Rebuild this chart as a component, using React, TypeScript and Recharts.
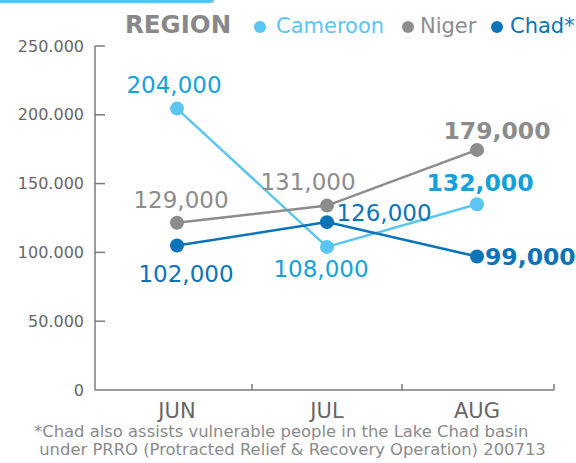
import React from 'react';
import { LineChart, Line, XAxis, YAxis, LabelList } from 'recharts';

const months = ['JUN', 'JUL', 'AUG'];
const seriesNames = ['Cameroon', 'Niger', 'Chad*'];
const cameroonValues = [204500, 104000, 135000];
const nigerValues = [121500, 134000, 174500];
const chadValues = [105000, 122000, 97000];
const cameroonLabels = ['204,000', '108,000', '132,000'];
const nigerLabels = ['129,000', '131,000', '179,000'];
const chadLabels = ['102,000', '126,000', '99,000'];
const yTicks = [0, 50000, 100000, 150000, 200000, 250000];
const legendTitle = 'REGION';
const footnoteLines = [
  '*Chad also assists vulnerable people in the Lake Chad basin',
  'under PRRO (Protracted Relief & Recovery Operation) 200713',
];

const data = months.map((m, i) => ({
  month: m,
  cameroon: cameroonValues[i],
  niger: nigerValues[i],
  chad: chadValues[i],
}));

const FONT = '"DejaVu Sans", Verdana, sans-serif';
const C_CAM_LINE = '#5bc5f2';
const C_CAM_TEXT = '#13a1dc';
const C_NIG = '#8c8c8c';
const C_CHAD = '#0a73b9';
const C_AXIS = '#7a7a7a';
const C_TICK = '#666666';

type Off = { dx: number; dy: number; bold?: boolean; anchor?: string };

const camOff: Off[] = [
  { dx: -3, dy: -24 },
  { dx: -6, dy: 22 },
  { dx: 3, dy: -21, bold: true },
];
const nigOff: Off[] = [
  { dx: 4, dy: -23 },
  { dx: -19, dy: -24 },
  { dx: 20, dy: -19, bold: true },
];
const chadOff: Off[] = [
  { dx: 9, dy: 28 },
  { dx: 57, dy: -9 },
  { dx: 8, dy: 0, bold: true, anchor: 'start' },
];

const makeLabel = (texts: string[], values: number[], color: string, offsets: Off[]) => (props: any) => {
  const x = props.x ?? props.viewBox?.x;
  const y = props.y ?? props.viewBox?.y;
  let index = props.index;
  if (index === undefined || index === null) index = values.indexOf(props.value);
  const o = offsets[index];
  if (!o || x === undefined) return null;
  return (
    <text
      x={x + o.dx}
      y={y + o.dy}
      fill={color}
      fontSize={o.bold ? 23.5 : 23}
      fontWeight={o.bold ? 'bold' : 'normal'}
      textAnchor={o.anchor || 'middle'}
      dominantBaseline="central"
      fontFamily={FONT}
    >
      {texts[index]}
    </text>
  );
};

const fmtY = (v: number) => String(v).replace(/\B(?=(\d{3})+(?!\d))/g, '.');

const YTick = (props: any) => {
  const { x, y, payload } = props;
  return (
    <g>
      <text x={x} y={y} textAnchor="end" dominantBaseline="central" fill={C_TICK} fontSize={16} fontFamily={FONT}>
        {fmtY(payload.value)}
      </text>
      {payload.value !== 0 && <line x1={x + 11} x2={x + 21} y1={y} y2={y} stroke={C_AXIS} strokeWidth={1.5} />}
    </g>
  );
};

const XTick = (props: any) => {
  const { x, y, payload, index } = props;
  const axisY = y - 12;
  const bx = index === months.length - 1 ? x + 77 : x + 75;
  return (
    <g>
      <text x={x} y={y + 16} textAnchor="middle" fill={C_TICK} fontSize={21} fontFamily={FONT}>
        {payload.value}
      </text>
      <line x1={bx} x2={bx} y1={axisY} y2={axisY - 6} stroke={C_AXIS} strokeWidth={1.5} />
    </g>
  );
};

const legendItems = [
  { name: seriesNames[0], color: C_CAM_LINE, dot: 259.5, text: 276 },
  { name: seriesNames[1], color: C_NIG, dot: 408, text: 420 },
  { name: seriesNames[2], color: C_CHAD, dot: 497, text: 510 },
];

export default function App() {
  return (
    <div style={{ position: 'absolute', left: 0, top: 0, width: 576, height: 463, background: '#fff', overflow: 'hidden', fontFamily: FONT }}>
      <div style={{ position: 'absolute', left: 0, top: 0, width: 214, height: 3, background: C_CAM_LINE, borderBottomRightRadius: 3 }} />
      <div style={{ position: 'absolute', left: 125, top: 11, fontSize: 24.5, fontWeight: 'bold', color: '#888888', lineHeight: '28px' }}>
        {legendTitle}
      </div>
      {legendItems.map((it) => (
        <React.Fragment key={it.name}>
          <div style={{ position: 'absolute', left: it.dot - 6, top: 21, width: 12, height: 12, borderRadius: 6, background: it.color }} />
          <div style={{ position: 'absolute', left: it.text, top: 12, fontSize: 21, color: it.color, lineHeight: '28px' }}>{it.name}</div>
        </React.Fragment>
      ))}
      <div style={{ position: 'absolute', left: 0, top: 0 }}>
        <LineChart width={576} height={463} data={data} margin={{ top: 46, right: 22, bottom: 43, left: 0 }}>
          <XAxis
            dataKey="month"
            padding={{ left: 82, right: 77 }}
            axisLine={{ stroke: C_AXIS, strokeWidth: 1.5 }}
            tickLine={false}
            tickSize={0}
            tickMargin={12}
            height={30}
            tick={<XTick />}
            interval={0}
          />
          <YAxis
            domain={[0, 250000]}
            ticks={yTicks}
            width={95}
            axisLine={{ stroke: C_AXIS, strokeWidth: 1.5 }}
            tickLine={false}
            tickSize={0}
            tickMargin={11}
            tick={<YTick />}
            interval={0}
          />
          <Line
            dataKey="cameroon"
            stroke={C_CAM_LINE}
            strokeWidth={2.5}
            dot={{ r: 7, fill: C_CAM_LINE, stroke: 'none' }}
            isAnimationActive={false}
          >
            <LabelList dataKey="cameroon" content={makeLabel(cameroonLabels, cameroonValues, C_CAM_TEXT, camOff)} />
          </Line>
          <Line
            dataKey="niger"
            stroke={C_NIG}
            strokeWidth={2.5}
            dot={{ r: 7, fill: C_NIG, stroke: 'none' }}
            isAnimationActive={false}
          >
            <LabelList dataKey="niger" content={makeLabel(nigerLabels, nigerValues, C_NIG, nigOff)} />
          </Line>
          <Line
            dataKey="chad"
            stroke={C_CHAD}
            strokeWidth={2.5}
            dot={{ r: 7, fill: C_CHAD, stroke: 'none' }}
            isAnimationActive={false}
          >
            <LabelList dataKey="chad" content={makeLabel(chadLabels, chadValues, C_CHAD, chadOff)} />
          </Line>
        </LineChart>
      </div>
      <div style={{ position: 'absolute', left: 34, top: 423, fontSize: 16.4, color: '#8a8a8a', lineHeight: '18px', whiteSpace: 'pre' }}>
        {footnoteLines[0]}
        {'\n'}
        {' ' + footnoteLines[1]}
      </div>
    </div>
  );
}
